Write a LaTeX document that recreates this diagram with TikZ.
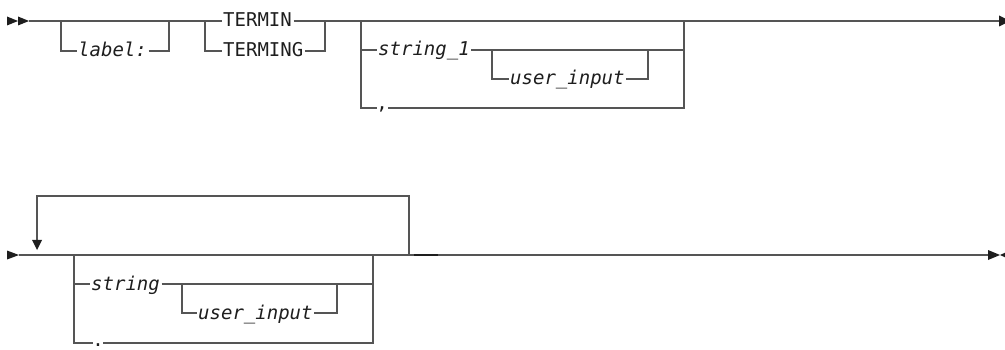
\documentclass[tikz,border=0pt]{standalone}
\usepackage{fontspec}
\newfontfamily\dmono{DejaVu Sans Mono}
\definecolor{linegray}{HTML}{555555}
\definecolor{textc}{HTML}{1E1E1E}
\begin{document}
\begin{tikzpicture}[x=1pt,y=-1pt,
  ln/.style={draw=linegray,line width=1.4pt},
  tip/.style={fill=textc,draw=none},
  kw/.style={font=\dmono\fontsize{19}{22}\selectfont,text=textc,anchor=base west,inner sep=0pt},
  var/.style={kw,font=\dmono\itshape\fontsize{19}{22}\selectfont},
  lw/.style={shift={(-1.5pt,6pt)}},
  rw/.style={shift={(1.5pt,6pt)}}]
\useasboundingbox (0,0) rectangle (1005,350);
% ---------- Row 1 ----------
\node[var] (lbl) at (78,57) {label:};
\node[kw] (t1) at (223,27) {TERMIN};
\node[kw] (t2) at (223,57) {TERMING};
\node[var] (s1) at (378,56) {string\_1};
\node[var] (u1) at (510,85) {user\_input};
\node[kw,anchor=base] (c1) at (382,110) {,};
\coordinate (r1s) at (29,21);
\coordinate (r1e) at (999,21);
% start and end tips
\fill[tip] (7,16.5) -- (7,25.5) -- (18,21) -- cycle;
\fill[tip] (18,16.5) -- (18,25.5) -- (29,21) -- cycle;
\fill[tip] (999,15.5) -- (999,26.5) -- (1010,21) -- cycle;
% main line
\draw[ln] (r1s) -- ([lw]t1.base west);
\draw[ln] ([rw]t1.base east) -- (r1e);
% optional label
\draw[ln] (61,21) -- (61,51) -- ([lw]lbl.base west);
\draw[ln] ([rw]lbl.base east) -- (169,51) -- (169,21);
% TERMIN / TERMING
\draw[ln] (205,21) -- (205,51) -- ([lw]t2.base west);
\draw[ln] ([rw]t2.base east) -- (325,51) -- (325,21);
% optional group string_1 / ,
\draw[ln] (361,21) -- (361,108) -- ([shift={(-5pt,2pt)}]c1.base);
\draw[ln] ([shift={(6pt,2pt)}]c1.base) -- (684,108) -- (684,21);
\draw[ln] (361,50) -- ([lw]s1.base west);
\draw[ln] ([rw]s1.base east) -- (684,50);
\draw[ln] (492,50) -- (492,79) -- ([lw]u1.base west);
\draw[ln] ([rw]u1.base east) -- (648,79) -- (648,50);
% ---------- Row 2 ----------
\node[var] (s2) at (91,290) {string};
\node[var] (u2) at (198,319) {user\_input};
\node[kw,anchor=base] (c2) at (98,346) {.};
\coordinate (r2s) at (19,255);
\coordinate (r2e) at (988,255);
\fill[tip] (7,250.5) -- (7,259.5) -- (19,255) -- cycle;
\fill[tip] (988,250) -- (988,260) -- (1000,255) -- cycle;
\fill[tip] (1011,250) -- (1011,260) -- (1000,255) -- cycle;
\draw[ln] (r2s) -- (r2e);
% repeat loop
\coordinate (lpr) at (409,255);
\coordinate (lpt) at (37,240);
\draw[ln] (lpr) -- (409,196) -- (37,196) -- (lpt);
\fill[tip] (32,240) -- (42,240) -- (37,250) -- cycle;
\draw[draw=textc,line width=2.4pt] (414,255) -- (438,255);
% choice box
\draw[ln] (74,255) -- (74,343) -- ([shift={(-5pt,3pt)}]c2.base);
\draw[ln] ([shift={(5pt,3pt)}]c2.base) -- (373,343) -- (373,255);
\draw[ln] (74,284) -- ([lw]s2.base west);
\draw[ln] ([rw]s2.base east) -- (373,284);
\draw[ln] (182,284) -- (182,313) -- ([lw]u2.base west);
\draw[ln] ([rw]u2.base east) -- (337,313) -- (337,284);
\end{tikzpicture}
\end{document}
